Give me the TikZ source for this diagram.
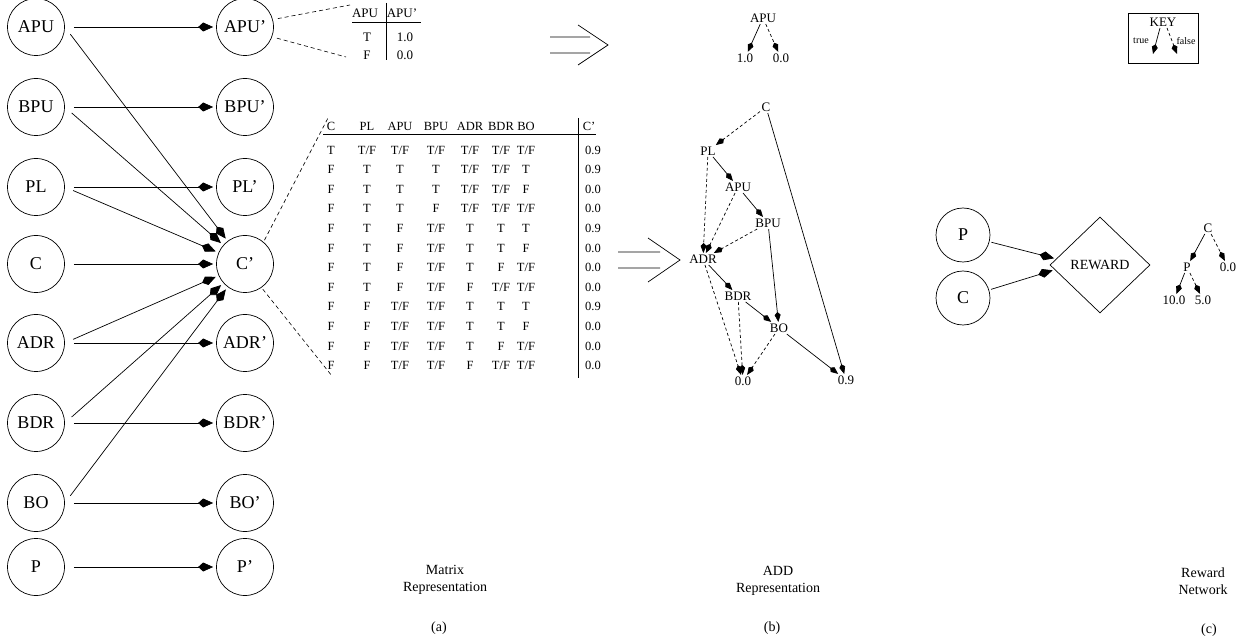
\documentclass[tikz,border=0pt]{standalone}
\usepackage{fontspec}
\setmainfont{Liberation Serif}
\usetikzlibrary{arrows.meta,shapes.geometric}
\newcommand\tf{T/F}
\tikzset{
  dbn var/.style={circle, draw, line width=.7pt, minimum size=57pt, inner sep=0pt,
    font=\fontsize{18}{20}\selectfont},
  dbn arc/.style={
    line width=.7pt,
    shorten <=9pt, shorten >=3pt,
    -{Kite[length=15pt,width=9pt,inset=5pt]}
  },
  dbn link/.style={line width=.6pt, dash pattern=on 4pt off 3pt},
  add node/.style={inner sep=1.5pt, font=\fontsize{13}{15}\selectfont},
  add true/.style={
    line width=.7pt,
    -{Kite[length=10pt,width=6pt,inset=3pt]}
  },
  add false/.style={add true, dash pattern=on 3pt off 2.5pt},
  tab small/.style={inner sep=0pt, font=\fontsize{13}{15}\selectfont},
  tab cell/.style={inner sep=0pt, font=\fontsize{12.5}{14}\selectfont},
  tab rule/.style={line width=.7pt},
  implies/.style={line width=.7pt},
  caption text/.style={align=center, font=\fontsize{14}{17}\selectfont}
}

\begin{document}
\begin{tikzpicture}[x=1pt,y=-1pt]
  \useasboundingbox (0,0) rectangle (1251,644);

  \foreach \v/\y in {APU/27,BPU/107,PL/187,C/264,ADR/343,BDR/423,BO/503,P/567} {
    \node[dbn var] (\v) at (36,\y) {\v};
    \node[dbn var] (n\v) at (245,\y) {\v'};
    \draw[dbn arc] (\v) -- (n\v);
  }
  \foreach \v in {APU,BPU,PL,ADR,BDR,BO}
    \draw[dbn arc] (\v.east) -- (nC);

  \coordinate (small top) at (350,5);
  \coordinate (small bot) at (346,57);
  \coordinate (big top) at (328,118);
  \coordinate (big bot) at (332,376);
  \draw[dbn link, shorten <=5pt] (nAPU.15) -- (small top);
  \draw[dbn link, shorten <=5pt] (nAPU.-20) -- (small bot);
  \draw[dbn link, shorten <=2pt] (nC.50) -- (big top);
  \draw[dbn link, shorten <=2pt] (nC.-55) -- (big bot);

  \node[tab small] (sh1) at (365,13) {APU};
  \node[tab small] (sh2) at (402,13) {APU'};
  \node[tab small] (sr1) at (367,37) {T};
  \node[tab small] (sv1) at (405,37) {1.0};
  \node[tab small] (sr2) at (367,55) {F};
  \node[tab small] (sv2) at (405,55) {0.0};
  \draw[tab rule] (352,22) -- (421,22);
  \draw[tab rule] (386,3) -- (386,60);

  \draw[implies] (550,37) -- (590,37) (550,53) -- (590,53) (578,25) -- (608,45) -- (578,65);

  \foreach \h/\x [count=\j] in {C/331,PL/367,APU/400,BPU/436,ADR/470,BDR/501,BO/526,C'/589}
    \node[tab cell] (h\j) at (\x,126) {\h};
  \foreach \vC/\vPL/\vAPU/\vBPU/\vADR/\vBDR/\vBO/\vN [count=\i] in {
      T/\tf/\tf/\tf/\tf/\tf/\tf/0.9,
      F/T/T/T/\tf/\tf/T/0.9,
      F/T/T/T/\tf/\tf/F/0.0,
      F/T/T/F/\tf/\tf/\tf/0.0,
      F/T/F/\tf/T/T/T/0.9,
      F/T/F/\tf/T/T/F/0.0,
      F/T/F/\tf/T/F/\tf/0.0,
      F/T/F/\tf/F/\tf/\tf/0.0,
      F/F/\tf/\tf/T/T/T/0.9,
      F/F/\tf/\tf/T/T/F/0.0,
      F/F/\tf/\tf/T/F/\tf/0.0,
      F/F/\tf/\tf/F/\tf/\tf/0.0} {
    \node[tab cell] (r\i c1) at (331,{150+19.6*(\i-1)}) {\vC};
    \node[tab cell] (r\i c2) at (367,{150+19.6*(\i-1)}) {\vPL};
    \node[tab cell] (r\i c3) at (400,{150+19.6*(\i-1)}) {\vAPU};
    \node[tab cell] (r\i c4) at (436,{150+19.6*(\i-1)}) {\vBPU};
    \node[tab cell] (r\i c5) at (470,{150+19.6*(\i-1)}) {\vADR};
    \node[tab cell] (r\i c6) at (501,{150+19.6*(\i-1)}) {\vBDR};
    \node[tab cell] (r\i c7) at (526,{150+19.6*(\i-1)}) {\vBO};
    \node[tab cell] (r\i c8) at (593,{150+19.6*(\i-1)}) {\vN};
  }
  \draw[tab rule] (323,134) -- (596,134);
  \draw[tab rule] (578,118) -- (578,378);

  \draw[implies] (618,252) -- (660,252) (618,268) -- (660,268) (648,238) -- (680,260) -- (648,282);

  \node[add node] (tAPU) at (763,18) {APU};
  \node[add node] (t1) at (745,58) {1.0};
  \node[add node] (t0) at (781,58) {0.0};
  \draw[add true] (tAPU) -- (t1);
  \draw[add false] (tAPU) -- (t0);

  \node[add node] (aC) at (766,107) {C};
  \node[add node] (aPL) at (708,151) {PL};
  \node[add node] (aAPU) at (738,187) {APU};
  \node[add node] (aBPU) at (768,223) {BPU};
  \node[add node] (aADR) at (703,259) {ADR};
  \node[add node] (aBDR) at (738,296) {BDR};
  \node[add node] (aBO) at (779,328) {BO};
  \node[add node] (a0) at (743,381) {0.0};
  \node[add node] (a9) at (846,380) {0.9};
  \draw[add false] (aC) -- (aPL);
  \draw[add true] (aC) -- (a9);
  \draw[add true] (aPL) -- (aAPU);
  \draw[add false] (aPL) -- (aADR);
  \draw[add true] (aAPU) -- (aBPU);
  \draw[add false] (aAPU) -- (aADR);
  \draw[add false] (aBPU) -- (aADR);
  \draw[add true] (aBPU) -- (aBO);
  \draw[add true] (aADR) -- (aBDR);
  \draw[add false] (aADR) -- (a0);
  \draw[add true] (aBDR) -- (aBO);
  \draw[add false] (aBDR) -- (a0);
  \draw[add false] (aBO) -- (a0);
  \draw[add true] (aBO) -- (a9);

  \node[draw, line width=.8pt, minimum width=70pt, minimum height=50pt] (key) at (1163,38) {};
  \node[add node] (key label) at (1163,22) {KEY};
  \node[inner sep=0pt, font=\fontsize{10}{12}\selectfont] (key true) at (1141,41) {true};
  \node[inner sep=0pt, font=\fontsize{10}{12}\selectfont] (key false) at (1186,41) {false};
  \coordinate (key t) at (1153,54);
  \coordinate (key f) at (1177,54);
  \draw[add true] ([xshift=-3pt]key label.south) -- (key t);
  \draw[add false] ([xshift=4pt]key label.south) -- (key f);

  \node[dbn var, minimum size=54pt] (rP) at (963,235) {P};
  \node[dbn var, minimum size=54pt] (rC) at (963,298) {C};
  \node[diamond, draw, line width=.7pt, minimum width=100pt, minimum height=96pt, inner sep=0pt,
    font=\fontsize{14}{16}\selectfont] (reward) at (1100,265) {REWARD};
  \draw[dbn arc, shorten <=2pt, shorten >=2pt] (rP) -- (reward.172);
  \draw[dbn arc, shorten <=2pt, shorten >=2pt] (rC) -- (reward.186);

  \node[add node] (rtC) at (1208,228) {C};
  \node[add node] (rtP) at (1187,267) {P};
  \node[add node] (rt0) at (1228,267) {0.0};
  \node[add node] (rt10) at (1174,300) {10.0};
  \node[add node] (rt5) at (1203,300) {5.0};
  \draw[add true] (rtC) -- (rtP);
  \draw[add false] (rtC) -- (rt0);
  \draw[add true] (rtP) -- (rt10);
  \draw[add false] (rtP) -- (rt5);

  \node[caption text] (cap a) at (445,580) {Matrix\\Representation};
  \node[caption text] (cap b) at (778,581) {ADD\\Representation};
  \node[caption text] (cap c) at (1203,581) {Reward\\Network};
  \node[caption text] (lab a) at (439,628) {(a)};
  \node[caption text] (lab b) at (772,628) {(b)};
  \node[caption text] (lab c) at (1209,630) {(c)};
\end{tikzpicture}
\end{document}
